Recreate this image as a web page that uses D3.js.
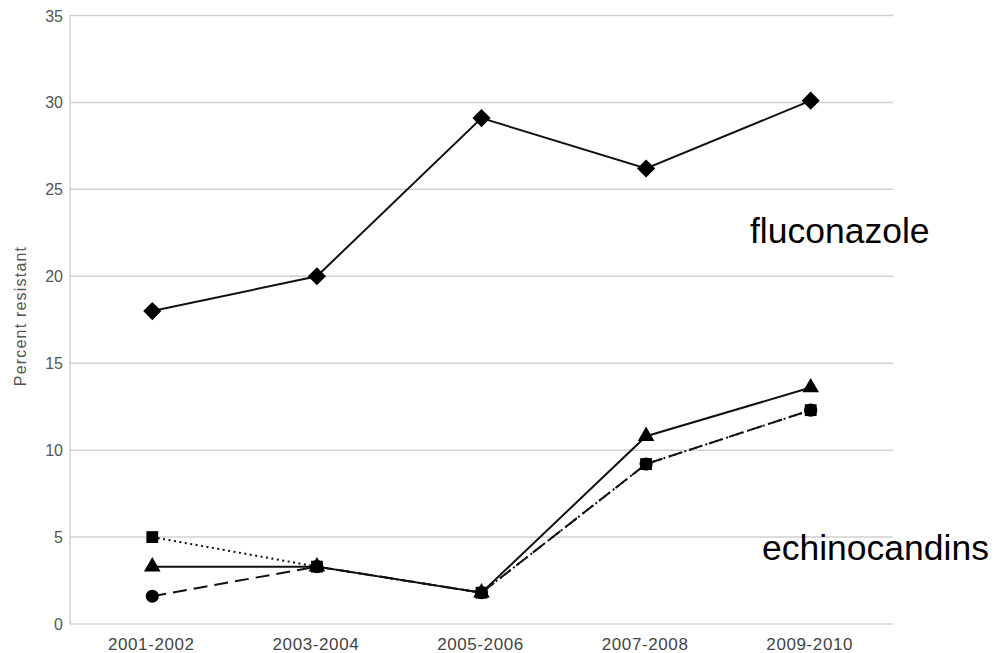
<!DOCTYPE html>
<meta charset="utf-8">
<head>
  <title>Percent resistant</title>
</head>
<style>
  body { margin: 0; background: white; }
  text { font-family: "Liberation Sans", Arial, Helvetica, sans-serif; }
  .tick-y { font-size: 16px; fill: #555; text-anchor: end; }
  .tick-x { font-size: 17px; fill: #444; text-anchor: middle; letter-spacing: 0.6px; }
  .ylabel { font-size: 16px; fill: #555; text-anchor: middle; letter-spacing: 1.2px; }
  .drug { font-size: 35.5px; fill: black; }
</style>
<body>
<script src="https://d3js.org/d3.v7.min.js"></script>
<div id="chart"></div>
<script>
  var periods = ["2001-2002", "2003-2004", "2005-2006", "2007-2008", "2009-2010"];
  var yTicks = [0, 5, 10, 15, 20, 25, 30, 35];

  var fluconazole = [18.0, 20.0, 29.1, 26.2, 30.1];
  var echinoSquare = [5.0, 3.3, 1.8, 9.2, 12.3];
  var echinoTriangle = [3.3, 3.3, 1.8, 10.8, 13.6];
  var echinoCircle = [1.6, 3.3, 1.8, 9.2, 12.3];

  var series = [
    { name: "fluconazole", values: fluconazole, shape: "diamond", dash: null },
    { name: "triangle", values: echinoTriangle, shape: "triangle", dash: null },
    { name: "square", values: echinoSquare, shape: "square", dash: "2,3.5" },
    { name: "circle", values: echinoCircle, shape: "circle", dash: "14,7" }
  ];

  var width = 1004, height = 653;

  var svg = d3.select("#chart")
    .append("svg")
    .attr("width", width)
    .attr("height", height);

  var x = d3.scalePoint()
    .domain(periods)
    .range([70, 893])
    .padding(0.5);

  var y = d3.scaleLinear()
    .domain([0, 35])
    .range([624, 15.5]);

  // gridlines
  svg.selectAll(".grid")
    .data(yTicks)
    .enter()
    .append("line")
    .attr("x1", 70)
    .attr("x2", 893)
    .attr("y1", function(d) { return y(d); })
    .attr("y2", function(d) { return y(d); })
    .style("stroke", "#d0d0d0")
    .style("stroke-width", 1.5);

  svg.append("line")
    .attr("x1", 70).attr("x2", 70)
    .attr("y1", y(35)).attr("y2", y(0))
    .style("stroke", "#d0d0d0")
    .style("stroke-width", 1.5);

  svg.selectAll(".tick-y")
    .data(yTicks)
    .enter()
    .append("text")
    .attr("class", "tick-y")
    .attr("x", 63)
    .attr("y", function(d) { return y(d) + 6; })
    .text(function(d) { return d; });

  svg.selectAll(".tick-x")
    .data(periods)
    .enter()
    .append("text")
    .attr("class", "tick-x")
    .attr("x", function(d) { return x(d) - 1; })
    .attr("y", 650)
    .text(function(d) { return d; });

  svg.append("text")
    .attr("class", "ylabel")
    .attr("transform", "translate(26,316) rotate(-90)")
    .text("Percent resistant");

  var line = d3.line()
    .x(function(d, i) { return x(periods[i]); })
    .y(function(d) { return y(d); });

  series.forEach(function(s) {
    svg.append("path")
      .datum(s.values)
      .attr("d", line)
      .style("fill", "none")
      .style("stroke", "#111")
      .style("stroke-width", 2)
      .style("stroke-dasharray", s.dash);
  });

  var symbols = {
    diamond: { type: d3.symbolSquare, size: 165, rotate: 45 },
    triangle: { type: d3.symbolTriangle, size: 120, rotate: 0 },
    square: { type: d3.symbolSquare, size: 140, rotate: 0 },
    circle: { type: d3.symbolCircle, size: 135, rotate: 0 }
  };

  series.forEach(function(s) {
    var sym = symbols[s.shape];
    svg.selectAll(null)
      .data(s.values)
      .enter()
      .append("path")
      .attr("transform", function(d, i) {
        return "translate(" + x(periods[i]) + "," + y(d) + ") rotate(" + sym.rotate + ")";
      })
      .attr("d", d3.symbol().type(sym.type).size(sym.size))
      .style("fill", "black");
  });

  svg.append("text")
    .attr("class", "drug")
    .attr("x", 750)
    .attr("y", 243)
    .text("fluconazole");

  svg.append("text")
    .attr("class", "drug")
    .attr("x", 762)
    .attr("y", 560)
    .text("echinocandins");
</script>
</body>
